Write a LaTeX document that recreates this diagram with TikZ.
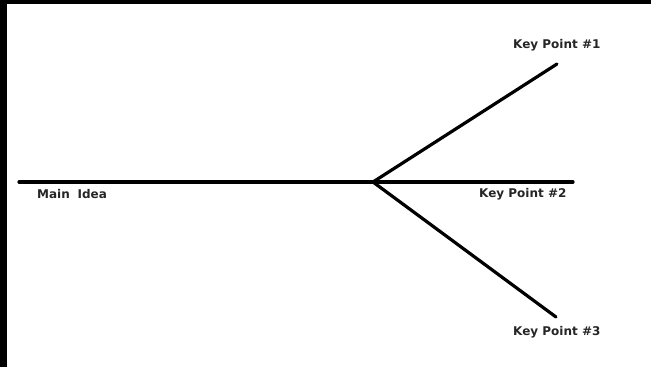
\documentclass[tikz,border=0pt]{standalone}
\usepackage{fontspec}
\setmainfont{DejaVu Sans}
\begin{document}
\begin{tikzpicture}[x=1pt,y=-1pt,
  bone/.style={line width=3.2pt,black,line cap=round},
  lbl/.style={font=\fontsize{12}{14}\selectfont\bfseries, inner sep=0pt, text=black!85}]
\useasboundingbox (0,0) rectangle (651,367);
\fill[black] (0,0) rectangle (651,367);
\fill[white] (7,4) rectangle (651,367);
\coordinate (start) at (19,182);
\coordinate (j) at (373,182);
\coordinate (e2) at (573,182);
\coordinate (e1) at (557,64);
\coordinate (e3) at (556,317);
\draw[bone] (start) -- (e2);
\draw[bone] (j) -- (e1);
\draw[bone] (j) -- (e3);
\node[lbl, anchor=west] (main) at (37,194) {Main\hspace{0.3em} Idea};
\node[lbl, anchor=west] (k1) at (513,45) {Key Point \#1};
\node[lbl, anchor=west] (k2) at (479,194) {Key Point \#2};
\node[lbl, anchor=west] (k3) at (513,332) {Key Point \#3};
\end{tikzpicture}
\end{document}
